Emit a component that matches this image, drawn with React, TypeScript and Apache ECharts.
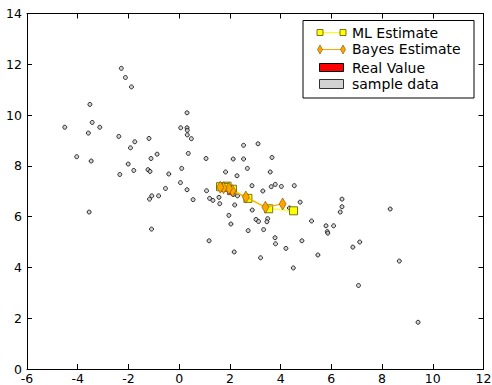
import React, { useEffect, useRef } from "react";
import * as echarts from "echarts";

const sampleData: number[][] = [
  [-4.51, 9.52], [-4.04, 8.36], [-3.52, 10.42], [-3.43, 9.71], [-3.58, 9.29],
  [-3.13, 9.52], [-3.47, 8.19], [-3.55, 6.18], [-2.28, 11.84], [-2.12, 11.48],
  [-1.88, 11.11], [-2.38, 9.16], [-1.75, 8.95], [-1.92, 8.71], [-2.01, 8.07],
  [-2.34, 7.66], [-1.79, 7.82], [-1.19, 9.08], [-0.87, 8.46], [-1.11, 8.29],
  [-1.23, 7.85], [-1.15, 7.78], [-0.41, 7.68], [0.06, 9.5], [0.31, 10.09],
  [0.31, 9.5], [0.32, 9.4], [0.32, 9.22], [0.48, 9.07], [0.36, 8.49],
  [0.1, 7.9], [0.05, 7.34], [0.31, 7.06], [-0.54, 7.11], [-0.81, 6.82],
  [-1.08, 6.82], [-1.17, 6.69], [0.55, 6.67], [-1.09, 5.51], [1.06, 8.29],
  [1.08, 7.02], [1.2, 6.72], [1.33, 6.64], [1.57, 6.76], [1.6, 6.51],
  [1.83, 7.76], [2.13, 8.27], [2.28, 7.61], [2.54, 8.81], [2.54, 8.27],
  [2.69, 7.9], [2.13, 6.87], [2.3, 6.82], [2.19, 6.46], [1.96, 6.05],
  [2.04, 5.71], [1.18, 5.05], [2.17, 4.61], [2.72, 5.45], [3.11, 8.87],
  [3.66, 8.33], [3.59, 7.76], [2.87, 7.22], [3.3, 7.01], [3.63, 7.18],
  [3.79, 7.27], [4.03, 7.19], [4.54, 7.22], [6.42, 6.69], [6.42, 6.39],
  [6.35, 6.18], [4.77, 6.57], [4.35, 6.34], [2.88, 6.26], [3.49, 5.92],
  [3.46, 5.8], [3.03, 5.89], [3.13, 5.81], [3.33, 5.49], [5.22, 5.83],
  [5.79, 5.64], [6.09, 5.64], [5.84, 5.41], [5.86, 5.35], [3.78, 5.17],
  [3.8, 4.93], [4.84, 5.05], [4.21, 4.75], [3.21, 4.38], [4.5, 3.98],
  [5.47, 4.49], [6.85, 4.8], [7.12, 5.0], [7.07, 3.29], [8.32, 6.3],
  [8.68, 4.25], [9.42, 1.84],
];

const mlEstimate: number[][] = [
  [4.51, 6.23], [3.53, 6.31], [2.71, 6.72], [2.1, 7.08], [1.89, 7.2], [1.63, 7.18], [1.8, 7.15],
];

const bayesEstimate: number[][] = [
  [4.08, 6.5], [3.4, 6.37], [2.63, 6.77], [2.1, 7.02], [1.96, 7.11], [1.75, 7.14], [1.62, 7.16],
];

const realValue: number[][] = [[2.02, 6.98]];

const xRange = { min: -6, max: 12, interval: 2 };
const yRange = { min: 0, max: 14, interval: 2 };

const legendLabels = ["ML Estimate", "Bayes Estimate", "Real Value", "sample data"];

const FONT = "DejaVu Sans";

export default function App() {
  const ref = useRef<HTMLDivElement>(null);
  useEffect(() => {
    if (!ref.current) return;
    const chart = echarts.init(ref.current, undefined, { renderer: "svg" });
    const axisCommon = {
      axisLine: { show: true, onZero: false, lineStyle: { color: "#000", width: 1 } },
      axisTick: { show: true, inside: true, length: 5, lineStyle: { color: "#000" } },
      splitLine: { show: false },
    };
    const lx = 320, rx = 343;
    const legendGraphic: any[] = [
      { type: "rect", shape: { x: 303, y: 20.5, width: 171, height: 77.5 }, style: { fill: "#fff", stroke: "#000", lineWidth: 1 }, z: 100 },
      // ML
      { type: "line", shape: { x1: lx, y1: 32.5, x2: rx, y2: 32.5 }, style: { stroke: "#ffff00", lineWidth: 1 }, z: 101 },
      { type: "rect", shape: { x: lx - 3, y: 29.5, width: 6, height: 6 }, style: { fill: "#ffff00", stroke: "#555500", lineWidth: 0.8 }, z: 102 },
      { type: "rect", shape: { x: rx - 3, y: 29.5, width: 6, height: 6 }, style: { fill: "#ffff00", stroke: "#555500", lineWidth: 0.8 }, z: 102 },
      { type: "text", x: 352, y: 32.5, style: { text: legendLabels[0], font: `14px "${FONT}"`, fill: "#000", textVerticalAlign: "middle" }, z: 102 },
      // Bayes
      { type: "line", shape: { x1: lx, y1: 49.5, x2: rx, y2: 49.5 }, style: { stroke: "#ffa500", lineWidth: 1 }, z: 101 },
      { type: "polygon", shape: { points: [[lx, 45], [lx + 2.5, 49.5], [lx, 54], [lx - 2.5, 49.5]] }, style: { fill: "#ffa500", stroke: "#7a5000", lineWidth: 0.6 }, z: 102 },
      { type: "polygon", shape: { points: [[rx, 45], [rx + 2.5, 49.5], [rx, 54], [rx - 2.5, 49.5]] }, style: { fill: "#ffa500", stroke: "#7a5000", lineWidth: 0.6 }, z: 102 },
      { type: "text", x: 352, y: 49, style: { text: legendLabels[1], font: `14px "${FONT}"`, fill: "#000", textVerticalAlign: "middle" }, z: 102 },
      // Real
      { type: "rect", shape: { x: lx - 0.5, y: 63.5, width: 24, height: 8 }, style: { fill: "#ff0000", stroke: "#000", lineWidth: 1 }, z: 102 },
      { type: "text", x: 352, y: 67.5, style: { text: legendLabels[2], font: `14px "${FONT}"`, fill: "#000", textVerticalAlign: "middle" }, z: 102 },
      // sample
      { type: "rect", shape: { x: lx - 0.5, y: 79.5, width: 24, height: 9 }, style: { fill: "#d3d3d3", stroke: "#333", lineWidth: 1 }, z: 102 },
      { type: "text", x: 352, y: 83.5, style: { text: legendLabels[3], font: `14px "${FONT}"`, fill: "#000", textVerticalAlign: "middle" }, z: 102 },
    ];
    chart.setOption({
      animation: false,
      backgroundColor: "#fff",
      textStyle: { fontFamily: FONT },
      grid: { left: 27, right: 8.5, top: 13.5, bottom: 16, outerBoundsMode: "none", containLabel: false },
      xAxis: [
        { type: "value", position: "bottom", ...xRange, ...axisCommon,
          axisLabel: { color: "#000", fontSize: 12.5, lineHeight: 11, fontFamily: FONT, margin: 4, formatter: (v: number) => String(v) } },
        { type: "value", position: "top", ...xRange, ...axisCommon, axisLabel: { show: false } },
      ],
      yAxis: [
        { type: "value", position: "left", ...yRange, ...axisCommon,
          axisLabel: { color: "#000", fontSize: 12.5, fontFamily: FONT, margin: 5, formatter: (v: number) => String(v) } },
        { type: "value", position: "right", ...yRange, ...axisCommon, axisLabel: { show: false } },
      ],
      series: [
        {
          name: legendLabels[3], type: "scatter", data: sampleData, symbol: "circle", symbolSize: 4,
          itemStyle: { color: "#c8c8c8", borderColor: "#000", borderWidth: 1 }, z: 2,
        },
        {
          name: legendLabels[0], type: "line", data: mlEstimate, symbol: "rect", symbolSize: 8,
          lineStyle: { color: "#ffff00", width: 1.2 },
          itemStyle: { color: "#ffff00", borderColor: "#555500", borderWidth: 0.8 }, z: 3,
        },
        {
          name: legendLabels[1], type: "line", data: bayesEstimate, symbol: "diamond", symbolSize: [7, 12],
          lineStyle: { color: "#ffa500", width: 1.2 },
          itemStyle: { color: "#ffa500", borderColor: "#7a5000", borderWidth: 0.6 }, z: 4,
        },
        {
          name: legendLabels[2], type: "scatter", data: realValue, symbol: "rect", symbolSize: 6,
          itemStyle: { color: "#ff0000", borderColor: "#000", borderWidth: 0.5 }, z: 3,
        },
      ],
      graphic: legendGraphic,
    });
    return () => chart.dispose();
  }, []);
  return <div ref={ref} style={{ position: "fixed", left: 0, top: 0, width: 492, height: 385 }} />;
}
